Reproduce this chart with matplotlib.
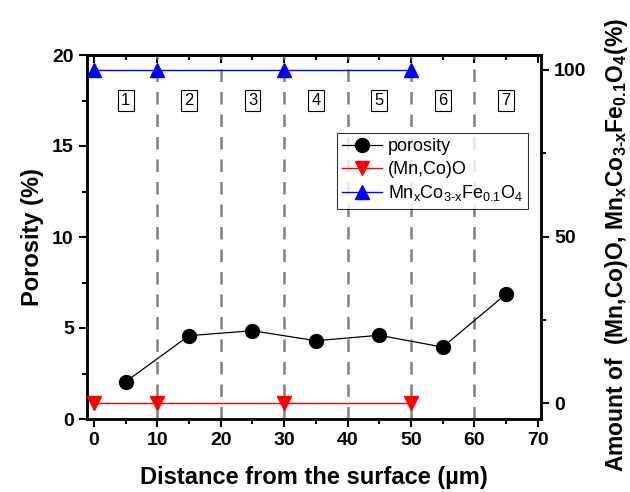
import matplotlib
matplotlib.use("Agg")
import matplotlib.pyplot as plt
from matplotlib.ticker import MultipleLocator

plt.rcParams['font.family'] = ['Liberation Sans', 'DejaVu Sans']
plt.rcParams['mathtext.fontset'] = 'custom'
plt.rcParams['mathtext.rm'] = 'Liberation Sans'
plt.rcParams['mathtext.it'] = 'Liberation Sans'
plt.rcParams['mathtext.bf'] = 'Liberation Sans:bold'

# Data
por_x = [5, 15, 25, 35, 45, 55, 65]
porosity = [2.05, 4.58, 4.85, 4.3, 4.6, 3.95, 6.87]
phase_x = [0, 10, 30, 50]
mnco_o = [0, 0, 0, 0]
spinel = [100, 100, 100, 100]
boundaries = [10, 20, 30, 40, 50, 60]
zone_x = [5, 15, 25, 35, 45, 55, 65]
zone_labels = ['1', '2', '3', '4', '5', '6', '7']

fig = plt.figure(figsize=(6.3, 4.92), dpi=100)
ax = fig.add_axes([87/630, 1 - 419/492, (541-87)/630, (419-55)/492])
ax2 = ax.twinx()

for b in boundaries:
    ax.axvline(b, color='#808080', linestyle=(0, (5, 4)), linewidth=1.8, zorder=1)

ax.plot(por_x, porosity, color='black', marker='o', markersize=10, linewidth=0.9,
        label='porosity', zorder=3)
l2, = ax2.plot(phase_x, mnco_o, color='red', marker='v', markersize=10, linewidth=1.0,
               label='(Mn,Co)O', zorder=3, clip_on=False)
l3, = ax2.plot(phase_x, spinel, color='blue', marker='^', markersize=10, linewidth=1.0,
               label='Mn$_\\mathregular{x}$Co$_\\mathregular{3\u2010x}$Fe$_\\mathregular{0.1}$O$_\\mathregular{4}$',
               zorder=3, clip_on=False)

for zx, zl in zip(zone_x, zone_labels):
    ax.text(zx, 17.5, zl, ha='center', va='center', fontsize=12,
            bbox=dict(boxstyle='square,pad=0.2', facecolor='white', edgecolor='black', linewidth=0.8),
            zorder=4)

ax.set_xlim(-1.1, 70.5)
ax.set_ylim(0, 20)
ax2.set_ylim(-4.8, 104.5)

ax.xaxis.set_major_locator(MultipleLocator(10))
ax.xaxis.set_minor_locator(MultipleLocator(5))
ax.yaxis.set_major_locator(MultipleLocator(5))
ax.yaxis.set_minor_locator(MultipleLocator(2.5))
ax2.yaxis.set_major_locator(MultipleLocator(50))
ax2.yaxis.set_minor_locator(MultipleLocator(25))

ax.tick_params(axis='both', which='major', direction='out', length=6, width=1.5, labelsize=14)
ax.tick_params(axis='both', which='minor', direction='out', length=3.5, width=1.5)
ax2.tick_params(axis='y', which='major', direction='out', length=6, width=1.5, labelsize=14)
ax2.tick_params(axis='y', which='minor', direction='out', length=3.5, width=1.5)

# top ticks inward
secx = ax.secondary_xaxis('top')
secx.xaxis.set_major_locator(MultipleLocator(10))
secx.xaxis.set_minor_locator(MultipleLocator(5))
secx.tick_params(which='major', direction='in', length=6, width=1.5, labeltop=False)
secx.tick_params(which='minor', direction='in', length=3.5, width=1.5)
secx.spines['top'].set_linewidth(1.8)
ax.tick_params(axis='x', which='both', top=False)

for lab in ax.get_xticklabels() + ax.get_yticklabels() + ax2.get_yticklabels():
    lab.set_fontweight('bold')

for sp in ax.spines.values():
    sp.set_linewidth(1.8)
for sp in ax2.spines.values():
    sp.set_linewidth(1.8)

ax.set_xlabel('Distance from the surface (µm)', fontsize=17, fontweight='bold', labelpad=12)
ax.set_ylabel('Porosity (%)', fontsize=17, fontweight='bold', labelpad=6)
ax2.set_ylabel('Amount of  (Mn,Co)O, Mn$_\\mathbf{x}$Co$_\\mathbf{3\u2010x}$Fe$_\\mathbf{0.1}$O$_\\mathbf{4}$(%)',
               fontsize=16.5, fontweight='bold')
ax2.yaxis.set_label_coords(1.136, 0.478)

h1, lb1 = ax.get_legend_handles_labels()
leg = ax.legend(h1 + [l2, l3], lb1 + [l2.get_label(), l3.get_label()],
                loc='upper left', bbox_to_anchor=((337-87)/454, (419-133)/364),
                fontsize=13, frameon=True, fancybox=False, edgecolor='black',
                handlelength=2.2, handletextpad=0.3, borderpad=0.3, labelspacing=0.3,
                borderaxespad=0)
leg.get_frame().set_linewidth(0.8)
leg.set_zorder(5)

fig.savefig('out.png', dpi=100)
